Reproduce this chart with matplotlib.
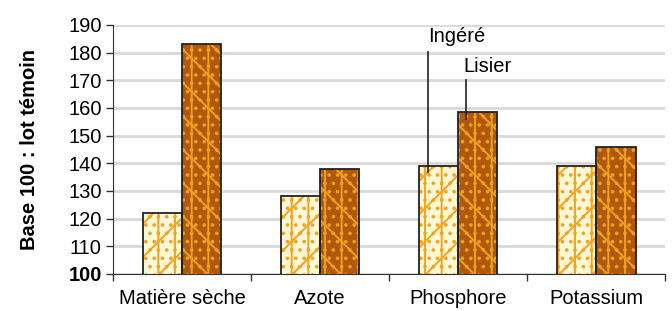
import matplotlib.pyplot as plt
import numpy as np

plt.rcParams['font.family'] = ['Liberation Sans', 'DejaVu Sans']
plt.rcParams['hatch.linewidth'] = 1.4

# Data
categories = ['Matière sèche', 'Azote', 'Phosphore', 'Potassium']
ingere = [122, 128, 139, 139]
lisier = [183, 138, 158.5, 146]
yticks = [100, 110, 120, 130, 140, 150, 160, 170, 180, 190]

fig = plt.figure(figsize=(6.72, 3.11), dpi=100)
ax = fig.add_axes([0.168, 0.119, 0.822, 0.801])

x = np.arange(len(categories))
w = 0.285

# fill + texture (hatch colour comes from edgecolor), then black outline on top
ax.bar(x - w / 2, ingere, w, color='#FFF7D6', edgecolor='#F5A21E',
       hatch='/|..', linewidth=0, zorder=2)
ax.bar(x + w / 2, lisier, w, color='#B0580C', edgecolor='#F0A020',
       hatch='\\|..', linewidth=0, zorder=2)
ax.bar(x - w / 2, ingere, w, fill=False, edgecolor='#222222', linewidth=1.3, zorder=3)
ax.bar(x + w / 2, lisier, w, fill=False, edgecolor='#222222', linewidth=1.3, zorder=3)

ax.set_ylim(100, 190)
ax.set_xlim(-0.5, 3.5)
ax.set_yticks(yticks)
ax.set_yticklabels([str(v) for v in yticks], fontsize=14.5)
ax.get_yticklabels()[0].set_fontweight('bold')
ax.yaxis.grid(True, color='#D9D9D9', linewidth=2)
ax.set_axisbelow(True)

ax.set_xticks(np.arange(-0.5, 4, 1))
ax.set_xticklabels([])
ax.set_xticks(x, minor=True)
ax.set_xticklabels(categories, minor=True, fontsize=14.5)
ax.tick_params(axis='x', which='minor', length=0, pad=11)
ax.tick_params(axis='both', which='major', length=5, width=1, color='#333333')
ax.tick_params(axis='y', pad=3)

for s in ['top', 'right']:
    ax.spines[s].set_visible(False)
ax.spines['left'].set_color('#333333')
ax.spines['bottom'].set_color('#333333')

ax.set_ylabel('Base 100 : lot témoin', fontsize=14.5, fontweight='bold', labelpad=21)

# series labels with leader lines
ax.plot([1.78, 1.78], [180.3, 137], color='#222222', linewidth=1.2, zorder=4)
ax.text(1.99, 185.7, 'Ingéré', fontsize=14.5, ha='center', va='center')
ax.plot([2.06, 2.06], [170.2, 156], color='#222222', linewidth=1.2, zorder=4)
ax.text(2.21, 174.8, 'Lisier', fontsize=14.5, ha='center', va='center')

plt.savefig('out.png', dpi=100)
